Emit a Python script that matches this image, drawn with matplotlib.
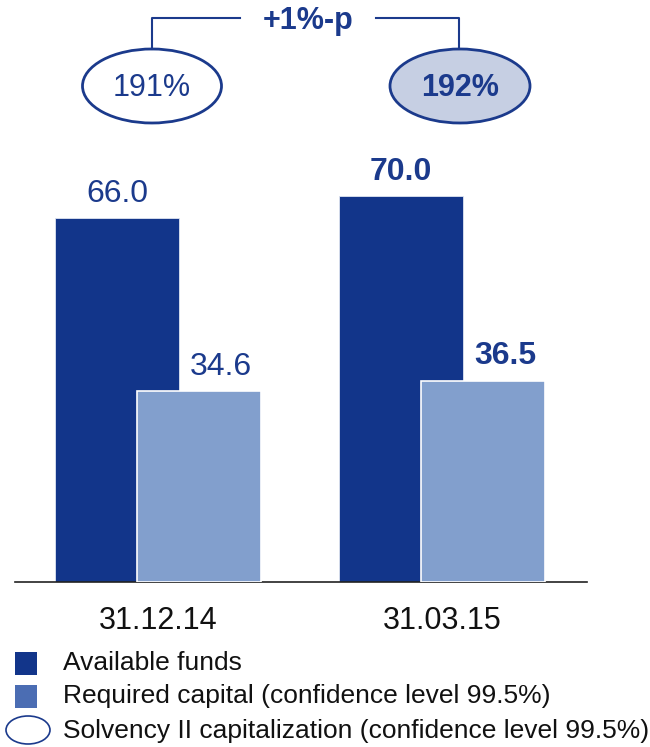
import matplotlib
matplotlib.use("Agg")
import matplotlib.pyplot as plt
from matplotlib.patches import Ellipse, Rectangle

plt.rcParams['font.family'] = ['Liberation Sans', 'DejaVu Sans']

dates = ['31.12.14', '31.03.15']
available_funds = [66.0, 70.0]
required_capital = [34.6, 36.5]
solvency_ratio = ['191%', '192%']
change_label = '+1%-p'
legend_labels = ['Available funds',
                 'Required capital (confidence level 99.5%)',
                 'Solvency II capitalization (confidence level 99.5%)']

DARK = '#12358a'
LIGHT = '#829fcd'
LIGHT_KEY = '#4b6db3'
NAVY = '#1b3a8c'
PALE = '#c6cfe3'

W, H = 650, 747
fig = plt.figure(figsize=(W / 100, H / 100), dpi=100)

# main bar axes: baseline at 582 px from the top, spans the full height above it
ax = fig.add_axes([15 / W, (H - 582) / H, 572 / W, 582 / H])
x = [0, 1]
bw = 0.437
off = 0.1435
b1 = ax.bar([i - off for i in x], available_funds, bw, color=DARK,
            edgecolor='#dfe5f1', linewidth=0.6, zorder=2)
b2 = ax.bar([i + off for i in x], required_capital, bw, color=LIGHT,
            edgecolor='white', linewidth=1.2, zorder=3)
ax.set_xlim(-0.503, 1.511)
ax.set_ylim(0, 582 / 5.51)

for i, (r1, r2) in enumerate(zip(b1, b2)):
    weight = 'bold' if i == 1 else 'normal'
    ax.annotate(f'{available_funds[i]:.1f}', (r1.get_x() + r1.get_width() / 2, r1.get_height()),
                xytext=(0, 12), textcoords='offset points', ha='center', va='baseline',
                fontsize=23, color=NAVY, fontweight=weight)
    ax.annotate(f'{required_capital[i]:.1f}', (r2.get_x() + r2.get_width() / 2, r2.get_height()),
                xytext=(16, 12), textcoords='offset points', ha='center', va='baseline',
                fontsize=23, color=NAVY, fontweight=weight)

ax.set_xticks(x)
ax.set_xticklabels(dates, fontsize=22, color='#111111')
ax.tick_params(axis='x', length=0, pad=17)
ax.set_yticks([])
for s in ['top', 'right', 'left']:
    ax.spines[s].set_visible(False)
ax.spines['bottom'].set_color('#222222')
ax.spines['bottom'].set_linewidth(1.2)

# overlay in pixel units for the ratio bubbles, bracket and key
ov = fig.add_axes([0, 0, 1, 1])
ov.set_xlim(0, W)
ov.set_ylim(H, 0)
ov.axis('off')

ov.add_patch(Ellipse((152, 86), 139, 74, facecolor='white', edgecolor=NAVY, linewidth=2))
ov.add_patch(Ellipse((460, 86), 140, 74, facecolor=PALE, edgecolor=NAVY, linewidth=2))
ov.text(152, 88, solvency_ratio[0], ha='center', va='center', fontsize=22, color=NAVY)
ov.text(460, 88, solvency_ratio[1], ha='center', va='center', fontsize=22,
        color=NAVY, fontweight='bold')

ov.plot([152, 152, 240], [49, 18, 18], color=NAVY, linewidth=1.5)
ov.plot([376, 459, 459], [18, 18, 49], color=NAVY, linewidth=1.5)
ov.text(308, 21, change_label, ha='center', va='center', fontsize=22,
        color=NAVY, fontweight='bold')

# key
ov.add_patch(Rectangle((15, 652), 22, 23, facecolor=DARK, edgecolor='none'))
ov.add_patch(Rectangle((15, 685), 22, 23, facecolor=LIGHT_KEY, edgecolor='none'))
ov.add_patch(Ellipse((28, 730), 44, 28, facecolor='white', edgecolor=NAVY, linewidth=1.2))
for yy, lab in zip([663, 696, 731], legend_labels):
    ov.text(63, yy, lab, ha='left', va='center', fontsize=19, color='#111111')

fig.savefig('out.png', dpi=100)
